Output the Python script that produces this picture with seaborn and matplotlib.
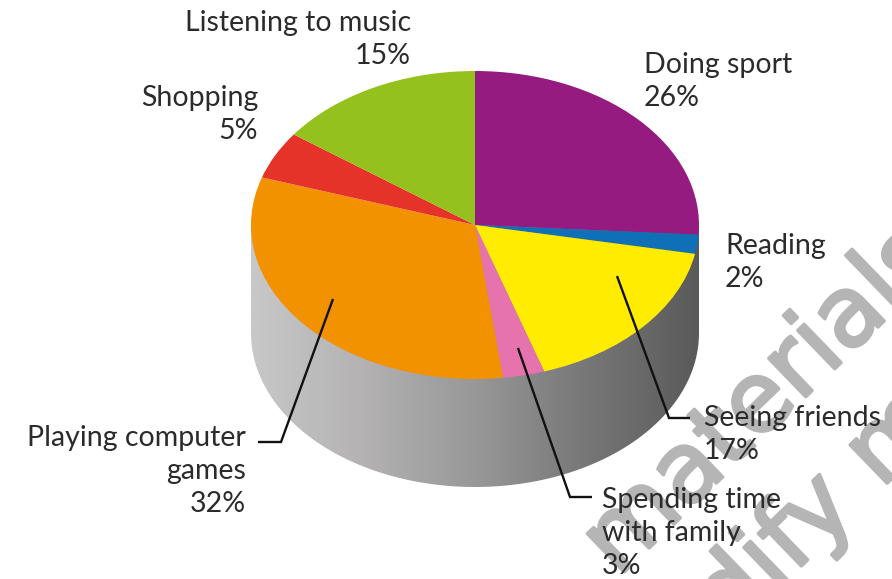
import numpy as np
import matplotlib
matplotlib.use("Agg")
import matplotlib.pyplot as plt
import matplotlib.patheffects as pe
from matplotlib.patches import PathPatch
from matplotlib.path import Path
from matplotlib.colors import LinearSegmentedColormap
import seaborn as sns

categories = ["Doing sport", "Reading", "Seeing friends", "Spending time\nwith family",
              "Playing computer\ngames", "Shopping", "Listening to music"]
shares = [26, 2, 17, 3, 32, 5, 15]
slice_colors = ["#951B81", "#0F6FB7", "#FFEC00", "#E673AE", "#F39200", "#E63329", "#95C11F"]

sns.set_theme(style="white")
plt.rcParams["font.family"] = ["Lato", "DejaVu Sans"]

W, H = 892, 579
CX, CY, RX, RY, DEPTH = 475, 225, 224, 154, 108
INK = "#2B2B2B"
MARK = "#B5B5B5"

fig = plt.figure(figsize=(W / 100, H / 100), dpi=100, facecolor="white")

# Canvas in pixel units for the watermark, side wall, leaders and labels
canvas = fig.add_axes([0, 0, 1, 1])
canvas.set_xlim(0, W)
canvas.set_ylim(H, 0)
canvas.axis("off")

for word, x0, y0 in [("materials", 618, 578), ("modify m", 619, 742)]:
    canvas.text(x0, y0, word, fontsize=70, color=MARK, rotation=44,
                family="DejaVu Sans",
                ha="left", va="baseline", rotation_mode="anchor", zorder=1,
                path_effects=[pe.withStroke(linewidth=2.5, foreground=MARK)])

# Cylinder wall: horizontal grey gradient clipped to the outline below the top face
t = np.linspace(np.pi, 0, 120)
arc_x = CX + RX * np.cos(t)
arc_y = CY + DEPTH + RY * np.sin(t)
wall_verts = [(CX - RX, CY)] + list(zip(arc_x, arc_y)) + [(CX + RX, CY)]
wall = PathPatch(Path(wall_verts + [(CX - RX, CY)], closed=False), fc="none", ec="none",
                 transform=canvas.transData)
canvas.add_patch(wall)
wall_cmap = LinearSegmentedColormap.from_list(
    "wall", ["#C8C8C8", "#B4B2B3", "#989898", "#777777", "#5A5A5A"])
grad = canvas.imshow(np.linspace(0, 1, 256)[None, :], cmap=wall_cmap, aspect="auto",
                     extent=(CX - RX, CX + RX, CY + RY + DEPTH, CY), zorder=2)
grad.set_clip_path(wall)
canvas.set_xlim(0, W)
canvas.set_ylim(H, 0)

# Top face: a pie squashed into an ellipse by its non-square axes
pie_ax = fig.add_axes([(CX - RX) / W, (H - CY - RY) / H, 2 * RX / W, 2 * RY / H], zorder=2)
pie_ax.pie(shares, colors=slice_colors, startangle=90, counterclock=False, radius=1,
           wedgeprops={"linewidth": 0})
pie_ax.set_aspect("auto")
pie_ax.set_xlim(-1, 1)
pie_ax.set_ylim(-1, 1)
pie_ax.patch.set_alpha(0)

# Overlay for leaders and text, above the pie
top = fig.add_axes([0, 0, 1, 1], zorder=3)
top.set_xlim(0, W)
top.set_ylim(H, 0)
top.axis("off")
top.patch.set_alpha(0)

leaders = [
    ([617, 669, 690], [276, 418, 418]),
    ([518, 570, 592], [348, 497, 497]),
    ([333, 281, 258], [299, 442, 442]),
]
for xs, ys in leaders:
    top.plot(xs, ys, color="#111111", lw=1.7, solid_joinstyle="miter", solid_capstyle="butt")

FS = 20.5
labels = [
    (0, 644, 65, "left"),
    (1, 725, 246, "left"),
    (2, 704, 418, "left"),
    (3, 602, 500, "left"),
    (4, 246, 438, "right"),
    (5, 258, 98, "right"),
    (6, 411, 23, "right"),
]
for i, x, y, ha in labels:
    top.text(x, y - 13, f"{categories[i]}\n{shares[i]}%", fontsize=FS, color=INK, ha=ha, va="top",
             linespacing=1.33, multialignment=ha)

fig.savefig("out.png", dpi=100)
